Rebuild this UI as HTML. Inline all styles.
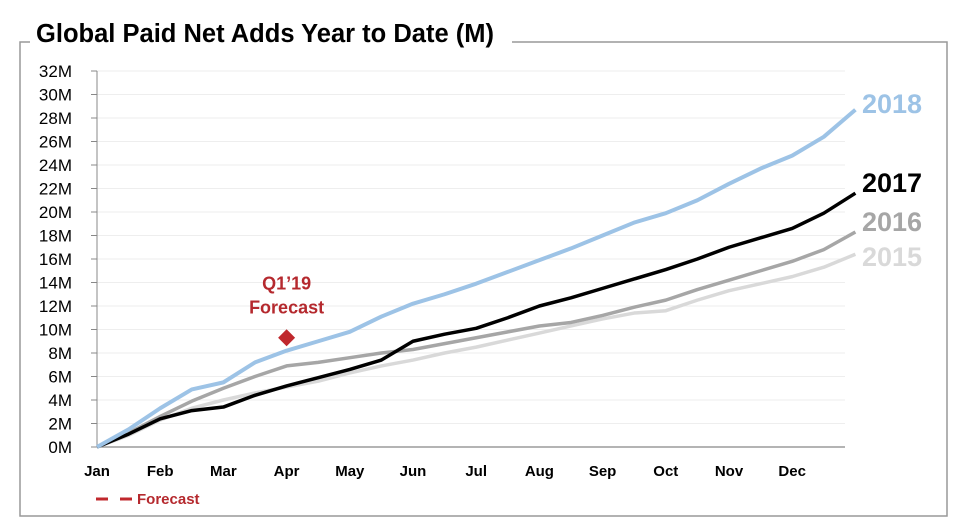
<!DOCTYPE html>
<html><head><meta charset="utf-8"><style>
body{margin:0;background:#fff;font-family:"Liberation Sans",sans-serif;}
svg{display:block}
</style></head><body>
<svg width="957" height="524" id="c">
<path d="M30 42 H20 V516 H947 V42 H512" fill="none" stroke="#999" stroke-width="1.5"/>
<text x="36" y="42" font-size="25.5" font-weight="bold" fill="#000" textLength="458" lengthAdjust="spacingAndGlyphs">Global Paid Net Adds Year to Date (M)</text>
<g id="grid"></g><g id="lines"></g>
</svg>
<script>
const months=["Jan","Feb","Mar","Apr","May","Jun","Jul","Aug","Sep","Oct","Nov","Dec"];
const yTicks=[0,2,4,6,8,10,12,14,16,18,20,22,24,26,28,30,32];
const seriesNames=["2015","2016","2017","2018"];
const seriesColors=["#d9d9d9","#a6a6a6","#000000","#9dc3e6"];
// values at Jan, mid-Jan, Feb, mid-Feb, ... Dec, mid-Dec, end
const s2015=[0,1.0,2.3,3.3,4.0,4.6,5.1,5.6,6.3,6.9,7.4,8.0,8.5,9.1,9.7,10.3,10.9,11.4,11.6,12.5,13.3,13.9,14.5,15.3,16.4];
const s2016=[0,1.2,2.6,3.9,5.0,6.0,6.9,7.2,7.6,8.0,8.3,8.8,9.3,9.8,10.3,10.6,11.2,11.9,12.5,13.4,14.2,15.0,15.8,16.8,18.3];
const s2017=[0,1.1,2.4,3.1,3.4,4.4,5.2,5.9,6.6,7.4,9.0,9.6,10.1,11.0,12.0,12.7,13.5,14.3,15.1,16.0,17.0,17.8,18.6,19.9,21.6];
const s2018=[0,1.5,3.3,4.9,5.5,7.2,8.2,9.0,9.8,11.1,12.2,13.0,13.9,14.9,15.9,16.9,18.0,19.1,19.9,21.0,22.4,23.7,24.8,26.4,28.7];
const series=[s2015,s2016,s2017,s2018];
const forecastValue=9.3, forecastMonth=3;
const X0=97,MW=63.2,Y0=447,PY=376/32;
const xs=i=>X0+i*MW/2, ys=v=>Y0-v*PY;
const NS="http://www.w3.org/2000/svg", svg=document.getElementById('c');
function mk(t,a,p){const e=document.createElementNS(NS,t);for(const k in a)e.setAttribute(k,a[k]);(p||svg).appendChild(e);return e;}
const g=document.getElementById('grid'),L=document.getElementById('lines');
yTicks.forEach(v=>{
 const gl=mk('line',{x1:97,x2:845,y1:ys(v),y2:ys(v),stroke:v?"#eeeeee":"#888","stroke-width":v?1:1.2},g);
 
 
 const tk=mk('line',{x1:91,x2:97,y1:ys(v),y2:ys(v),stroke:"#888"},g);
 
 
 const t=mk('text',{x:72,y:ys(v)+6,"font-size":17,"text-anchor":"end",fill:"#000"},g);t.textContent=v+"M";
 
 
});
const ya=mk('line',{x1:97,x2:97,y1:ys(32),y2:Y0,stroke:"#888"},g);


months.forEach((m,i)=>{const t=mk('text',{x:X0+i*MW,y:476,"font-size":15,"font-weight":"bold","text-anchor":"middle"},g);t.textContent=m;
 
 });
const labY=[256,221,182,103];
series.forEach((s,k)=>{
 const p=mk('polyline',{points:s.map((v,i)=>xs(i)+","+ys(v)).join(" "),fill:"none",stroke:seriesColors[k],"stroke-width":k==3?4:3.5,"stroke-linejoin":"round"},L);
 
 
 const t=mk('text',{x:862,y:labY[k]+10,"font-size":27,"font-weight":"bold",fill:seriesColors[k]},L);t.textContent=seriesNames[k];
 
 
});
const fx=X0+forecastMonth*MW, fy=ys(forecastValue);
const d=mk('rect',{x:fx-6,y:fy-6,width:12,height:12,fill:"#c0282d",transform:`rotate(45 ${fx} ${fy})`},L);


const t1=mk('text',{x:fx,y:fy-48,"font-size":18,"font-weight":"bold",fill:"#b5292e","text-anchor":"middle"},L);t1.textContent="Q1’19";


const t2=mk('text',{x:fx,y:fy-24,"font-size":18,"font-weight":"bold",fill:"#b5292e","text-anchor":"middle"},L);t2.textContent="Forecast";


const lg=mk('path',{d:"M96 499 H108 M120 499 H132",stroke:"#c0282d","stroke-width":3},L);


const lt=mk('text',{x:137,y:504,"font-size":15,"font-weight":"bold",fill:"#b5292e"},L);lt.textContent="Forecast";


</script>
</body></html>
